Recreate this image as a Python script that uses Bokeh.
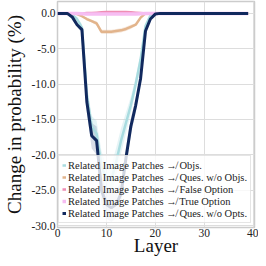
from bokeh.plotting import figure
from bokeh.models import Legend, LegendItem, Range1d, FixedTicker, NumeralTickFormatter
from bokeh.embed import file_html
from bokeh.resources import INLINE

layers = list(range(40))
series_names = [
    "Related Image Patches \u219b Objs.",
    "Related Image Patches \u219b Ques. w/o Objs.",
    "Related Image Patches \u219b False Option",
    "Related Image Patches \u219b True Option",
    "Related Image Patches \u219b Ques. w/o Opts.",
]
objs = [0, 0, 0, -0.2, -0.8, -2.0, -11.5, -16.0, -17.0, -21.5, -23.5, -23.5, -21.0, -18.0,
        -15.5, -13.0, -10.0, -6.5, -1.8, -0.3] + [0] * 20
objs_err = [0, 0, 0, 0.1, 0.3, 0.5, 1.5, 1.5, 1.8, 2.0, 2.0, 2.0, 2.0, 1.8,
            1.5, 1.2, 1.0, 0.8, 0.4, 0.1] + [0] * 20
ques_wo_objs = [0, 0, 0, 0, -0.1, -0.4, -0.8, -1.1, -1.4, -2.6, -2.6, -2.6, -2.5, -2.4,
                -2.2, -1.9, -1.6, -0.6, 0, 0] + [0] * 20
ques_err = [0, 0, 0, 0, 0.05, 0.1, 0.2, 0.2, 0.3, 0.3, 0.3, 0.3, 0.3, 0.3,
            0.3, 0.3, 0.2, 0.1, 0, 0] + [0] * 20
false_opt = [0, 0, 0, 0, 0, 0, 0.05, 0.05, 0.1, 0.15, 0.2, 0.2, 0.2, 0.2,
             0.2, 0.15, 0.1, 0.05, 0, 0] + [0] * 20
true_opt = [0, 0, 0, 0, 0, -0.05, -0.1, -0.1, -0.1, -0.1, -0.1, -0.1, -0.1, -0.1,
            -0.1, -0.1, -0.1, -0.05, 0, 0] + [0] * 20
ques_wo_opts = [0, 0, 0, -0.5, -1.6, -2.3, -12.5, -17.3, -18.0, -25.0, -27.0, -27.5, -27.0, -25.5,
                -20.5, -16.0, -13.0, -9.2, -2.5, -0.8, -0.1] + [0] * 19
opts_err = [0, 0, 0, 0.1, 0.3, 0.5, 1.5, 1.8, 2.0, 2.0, 2.0, 2.0, 2.0, 1.8,
            1.5, 1.2, 1.0, 0.8, 0.4, 0.1, 0] + [0] * 19
y_ticks = [-30, -25, -20, -15, -10, -5, 0]
x_ticks = [0, 10, 20, 30, 40]

colors = ["#a9dce0", "#e2b48c", "#ef8db4", "#f6bdf2", "#11295e"]
widths = [2.5, 2.5, 2.5, 3.5, 3]

FONT = "Liberation Serif"

p = figure(width=258, height=258, output_backend="svg", toolbar_location=None,
           x_range=Range1d(0, 40.3), y_range=Range1d(-30.28, 1.68),
           min_border_left=55, min_border_right=4, min_border_top=1, min_border_bottom=29)

p.background_fill_color = "white"
p.border_fill_color = "white"
p.outline_line_color = "#cccccc"
p.outline_line_width = 1.5
p.grid.grid_line_color = "#dddddd"
p.grid.grid_line_width = 1

def band(y, err, color):
    lo = [a - e for a, e in zip(y, err)]
    hi = [a + e for a, e in zip(y, err)]
    p.varea(x=layers, y1=lo, y2=hi, fill_color=color, fill_alpha=0.3)

band(objs, objs_err, colors[0])
band(ques_wo_objs, ques_err, colors[1])
band(ques_wo_opts, opts_err, "#7f8fb0")

data = [objs, ques_wo_objs, false_opt, true_opt, ques_wo_opts]
renderers = []
for ys, c, w in zip(data, colors, widths):
    r = p.line(layers, ys, line_color=c, line_width=w)
    renderers.append(r)

legend = Legend(items=[LegendItem(label=n, renderers=[r]) for n, r in zip(series_names, renderers)],
                location=(1, 4))
legend.label_text_font = FONT
legend.label_text_font_size = "10.5px"
legend.label_text_color = "#222222"
legend.label_height = 12
legend.glyph_height = 12
legend.glyph_width = 4
legend.label_standoff = 2
legend.spacing = 0
legend.padding = 3
legend.margin = 0
legend.background_fill_alpha = 0.8
legend.border_line_color = "#cccccc"
legend.border_line_width = 1
p.add_layout(legend, "center")

p.xaxis.ticker = FixedTicker(ticks=x_ticks)
p.yaxis.ticker = FixedTicker(ticks=y_ticks)
p.yaxis.formatter = NumeralTickFormatter(format="0.0")
for ax in (p.xaxis, p.yaxis):
    ax.axis_line_color = None
    ax.major_tick_line_color = None
    ax.minor_tick_line_color = None
    ax.major_tick_out = 0
    ax.major_tick_in = 0
    ax.minor_tick_out = 0
    ax.minor_tick_in = 0
    ax.major_label_text_font = FONT
    ax.major_label_text_font_size = "11.5px"
    ax.major_label_text_color = "#222222"
    ax.axis_label_text_font = FONT
    ax.axis_label_text_font_style = "normal"
    ax.axis_label_text_font_size = "19px"
    ax.axis_label_text_color = "#111111"
p.xaxis.major_label_standoff = 1
p.xaxis.axis_label_standoff = -5
p.yaxis.major_label_standoff = 2
p.yaxis.axis_label_standoff = 4
p.xaxis.axis_label = "Layer"
p.yaxis.axis_label = "Change in probability (%)"

open("out.html", "w").write(file_html(p, INLINE))
